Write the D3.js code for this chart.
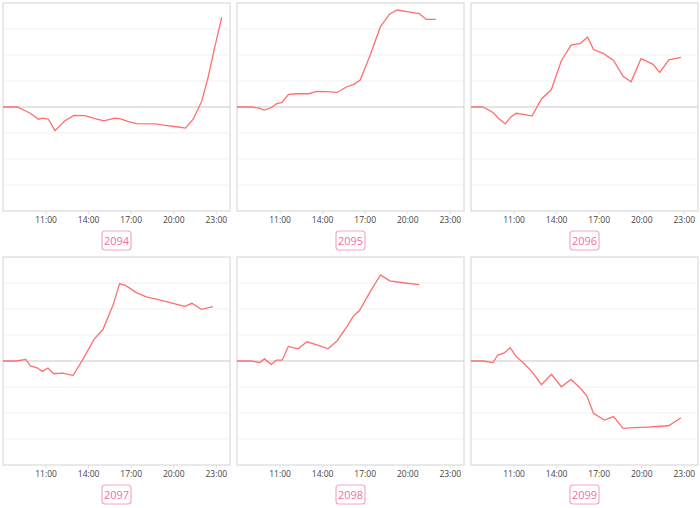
<!DOCTYPE html>
<html><head><meta charset="utf-8">
<script src="https://cdn.jsdelivr.net/npm/d3@7"></script>
<style>body{margin:0;background:#fff;} svg{display:block;}</style>
</head><body>
<svg id="c" width="700" height="508"></svg>
<script>
const seriesNames = ["2094","2095","2096","2097","2098","2099"];
const times2094 = ["8:00","9:00","9:55","10:30","10:48","11:12","11:40","12:22","13:00","13:47","14:29","15:07","15:53","16:15","16:50","17:25","18:43","19:25","20:14","20:52","21:25","22:00","22:28","22:56","23:25"];
const values2094 = [0,0,-0.24,-0.47,-0.43,-0.47,-0.91,-0.53,-0.32,-0.33,-0.45,-0.53,-0.43,-0.45,-0.56,-0.64,-0.65,-0.71,-0.76,-0.81,-0.46,0.21,1.17,2.32,3.45];
const times2095 = ["8:00","9:04","9:32","9:56","10:24","10:46","11:10","11:38","12:14","13:03","13:38","14:20","15:03","15:42","16:16","16:41","17:24","18:06","18:46","19:17","19:59","20:51","21:20","22:01"];
const values2095 = [0,0,-0.04,-0.12,-0.03,0.12,0.18,0.49,0.51,0.51,0.60,0.59,0.56,0.77,0.88,1.04,2.01,3.08,3.58,3.73,3.67,3.59,3.37,3.37];
const times2096 = ["8:00","8:51","9:33","9:57","10:25","10:49","11:11","11:43","12:18","12:58","13:40","14:22","15:03","15:43","16:13","16:38","17:21","18:03","18:43","19:17","19:59","20:50","21:18","21:57","22:48"];
const values2096 = [0,0,-0.21,-0.44,-0.65,-0.38,-0.24,-0.28,-0.35,0.31,0.67,1.78,2.38,2.45,2.69,2.21,2.05,1.79,1.18,0.97,1.86,1.64,1.33,1.81,1.91];
const times2097 = ["8:00","8:56","9:36","9:56","10:24","10:46","11:10","11:35","12:14","12:56","13:38","14:25","15:03","15:45","16:13","16:38","17:24","18:06","19:02","19:59","20:48","21:19","21:59","22:48"];
const values2097 = [0,0,0.06,-0.19,-0.26,-0.40,-0.27,-0.49,-0.47,-0.56,0.06,0.83,1.22,2.14,2.97,2.91,2.63,2.47,2.35,2.22,2.10,2.22,1.99,2.09];
const times2098 = ["8:00","9:01","9:36","9:56","10:25","10:46","11:11","11:37","12:18","12:56","13:38","14:25","15:03","15:40","16:13","16:38","17:21","18:07","18:46","19:42","20:50"];
const values2098 = [0,0,-0.06,0.08,-0.13,0.03,0.03,0.56,0.47,0.74,0.62,0.47,0.77,1.26,1.73,1.94,2.63,3.31,3.08,3.01,2.94];
const times2099 = ["8:00","8:51","9:33","9:53","10:21","10:46","11:11","11:43","12:18","12:58","13:40","14:22","15:03","15:43","16:10","16:38","17:24","18:03","18:43","19:28","20:24","21:56","22:48"];
const values2099 = [0,0,-0.06,0.23,0.31,0.51,0.17,-0.09,-0.41,-0.91,-0.51,-0.99,-0.71,-1.05,-1.35,-2.01,-2.27,-2.14,-2.59,-2.56,-2.54,-2.49,-2.18];
const xTickLabels = ["11:00","14:00","17:00","20:00","23:00"];
const yGridValues = [-3,-2,-1,0,1,2,3];

const allTimes = [times2094,times2095,times2096,times2097,times2098,times2099];
const allValues = [values2094,values2095,values2096,values2097,values2098,values2099];

const toH = s => { const [h,m] = s.split(":").map(Number); return h + m/60; };

const svg = d3.select("#c");
const W = 227, H = 208, dx = 234, dy = 254, ox = 3, oy = 3;

seriesNames.forEach((name, i) => {
  const col = i % 3, row = Math.floor(i / 3);
  const g = svg.append("g").attr("transform", `translate(${ox + col*dx},${oy + row*dy})`);
  const x = d3.scaleLinear().domain([8, 24]).range([0, W]);
  const y = d3.scaleLinear().domain([-4, 4]).range([H, 0]);

  // grid
  g.selectAll(".grid").data(yGridValues.filter(v => v !== 0)).enter().append("line")
    .attr("x1", 0).attr("x2", W).attr("y1", d => y(d)).attr("y2", d => y(d))
    .attr("stroke", "#f1f1f1").attr("stroke-width", 1);

  // x axis
  const ax = g.append("g").attr("transform", `translate(0,${H})`)
    .call(d3.axisBottom(x).tickValues(xTickLabels.map(toH)).tickFormat((d, j) => xTickLabels[j]).tickSize(3).tickPadding(3));
  ax.select(".domain").remove();
  ax.selectAll(".tick line").attr("stroke", "#ddd");
  ax.selectAll("text").attr("fill", "#444").style("font-family", "'Open Sans', sans-serif").style("font-size", "8.5px");

  // border
  g.append("rect").attr("x", 0).attr("y", 0).attr("width", W).attr("height", H)
    .attr("fill", "none").attr("stroke", "#e2e2e2").attr("stroke-width", 1.5);

  // zero line
  g.append("line").attr("x1", 0).attr("x2", W).attr("y1", y(0)).attr("y2", y(0))
    .attr("stroke", "#c9c9c9").attr("stroke-width", 1.2);

  const data = allTimes[i].map((t, j) => ({ h: toH(t), v: allValues[i][j] }));
  g.append("path").datum(data)
    .attr("d", d3.line().x(d => x(d.h)).y(d => y(d.v)))
    .attr("fill", "none").attr("stroke", "#ff6f6f").attr("stroke-width", 1.3);

  // label box
  const bw = 29, bh = 19, cx = W / 2;
  g.append("rect").attr("x", cx - bw/2).attr("y", H + 20).attr("width", bw).attr("height", bh)
    .attr("rx", 3).attr("fill", "#fff").attr("stroke", "#f7a6c6").attr("stroke-width", 1.2);
  g.append("text").attr("x", cx).attr("y", H + 20 + bh/2 + 4).attr("text-anchor", "middle")
    .attr("fill", "#f0709f").style("font-family", "'Open Sans', sans-serif").style("font-size", "11px")
    .text(name);
});
</script>
</body></html>
